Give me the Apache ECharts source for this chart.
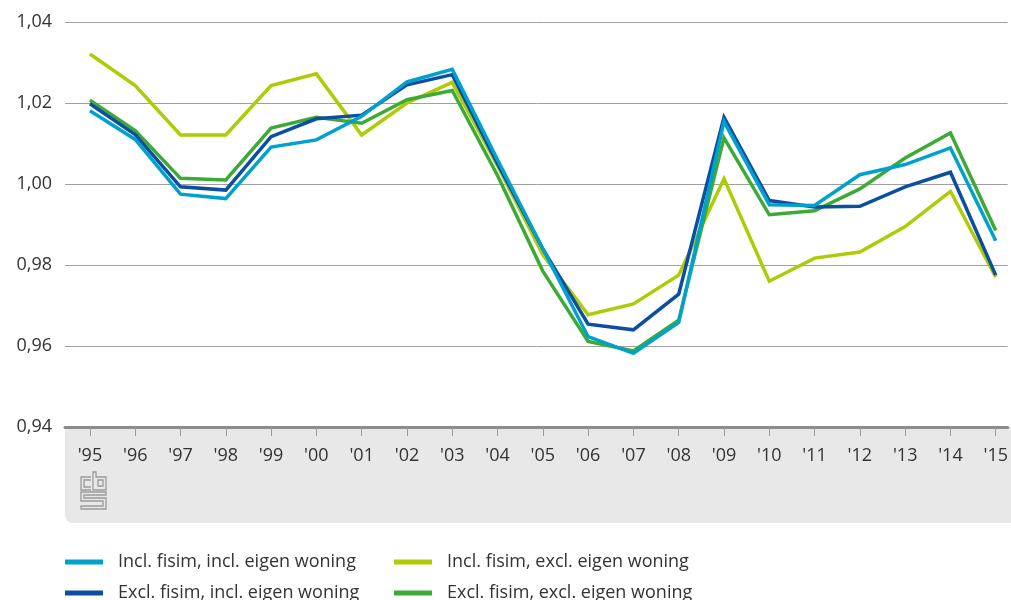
<!DOCTYPE html>
<html>
<head>
<meta charset="utf-8">
<script src="https://cdn.jsdelivr.net/npm/echarts@6/dist/echarts.min.js"></script>
<style>
  html, body { margin: 0; padding: 0; background: #fff; }
  #main { width: 1011px; height: 600px; }
</style>
</head>
<body>
<div id="main"></div>
<script>
// jaren op de x-as
var years = [1995, 1996, 1997, 1998, 1999, 2000, 2001, 2002, 2003, 2004, 2005,
             2006, 2007, 2008, 2009, 2010, 2011, 2012, 2013, 2014, 2015];

// reeksen
var inclFisimInclWoning = [1.0181, 1.0110, 0.9975, 0.9964, 1.0091, 1.0109, 1.0167, 1.0252, 1.0283, 1.0060, 0.9840,
                           0.9623, 0.9582, 0.9658, 1.0154, 0.9949, 0.9947, 1.0023, 1.0048, 1.0089, 0.9860];
var exclFisimInclWoning = [1.0198, 1.0122, 0.9993, 0.9985, 1.0117, 1.0161, 1.0170, 1.0245, 1.0270, 1.0050, 0.9840,
                           0.9654, 0.9640, 0.9728, 1.0165, 0.9959, 0.9943, 0.9945, 0.9993, 1.0029, 0.9775];
var inclFisimExclWoning = [1.0321, 1.0243, 1.0121, 1.0121, 1.0243, 1.0272, 1.0121, 1.0200, 1.0251, 1.0045, 0.9825,
                           0.9677, 0.9704, 0.9775, 1.0013, 0.9760, 0.9817, 0.9832, 0.9895, 0.9982, 0.9770];
var exclFisimExclWoning = [1.0207, 1.0132, 1.0014, 1.0010, 1.0138, 1.0165, 1.0150, 1.0208, 1.0231, 1.0021, 0.9785,
                           0.9611, 0.9588, 0.9664, 1.0114, 0.9924, 0.9934, 0.9988, 1.0064, 1.0126, 0.9885];

var yTicks = [0.94, 0.96, 0.98, 1.00, 1.02, 1.04];

var names = ['Incl. fisim, incl. eigen woning', 'Excl. fisim, incl. eigen woning',
             'Incl. fisim, excl. eigen woning', 'Excl. fisim, excl. eigen woning'];
var colors = ['#00a1cd', '#0b4ea2', '#afcb05', '#3daa35'];

var FONT = '"Open Sans", "Noto Sans", sans-serif';

function pairs(vals) {
    return years.map(function (y, i) { return [y, vals[i]]; });
}

function line(name, vals, color, z) {
    return {
        name: name,
        type: 'line',
        data: pairs(vals),
        symbol: 'none',
        z: z,
        lineStyle: { color: color, width: 3.5, join: 'miter' },
        itemStyle: { color: color }
    };
}

var myChart = echarts.init(document.getElementById('main'));

var legendText = { color: '#333', fontSize: 18, fontFamily: FONT, padding: [0, 0, 0, 10], lineHeight: 20 };

myChart.setOption({
    animation: false,
    grid: { left: 65, right: 0, top: 22, bottom: 173 },
    legend: [{
        left: 60, top: 547, height: 80, orient: 'vertical', itemGap: 11,
        icon: 'rect', itemWidth: 38, itemHeight: 5,
        data: [names[0], names[1]], textStyle: legendText
    }, {
        left: 389, top: 547, height: 80, orient: 'vertical', itemGap: 11,
        icon: 'rect', itemWidth: 38, itemHeight: 5,
        data: [names[2], names[3]], textStyle: legendText
    }],
    xAxis: {
        type: 'value',
        min: 1994.45,
        max: 2015.264,
        splitLine: { show: false },
        axisLine: { show: true, onZero: false, lineStyle: { color: '#8c8c8c', width: 3 } },
        axisTick: { show: true, customValues: years, length: 9, lineStyle: { color: '#999', width: 1 } },
        axisLabel: {
            customValues: years,
            margin: 20,
            color: '#333', fontSize: 18, fontFamily: FONT,
            formatter: function (v) { return "'" + String(Math.round(v)).slice(2); }
        }
    },
    yAxis: {
        type: 'value',
        min: 0.94,
        max: 1.04,
        interval: 0.02,
        axisLine: { show: false },
        axisTick: { show: false },
        splitLine: { lineStyle: { color: '#a0a0a0', width: 1 } },
        axisLabel: {
            customValues: yTicks,
            margin: 13,
            color: '#333', fontSize: 18, fontFamily: FONT,
            formatter: function (v) { return v.toFixed(2).replace('.', ','); }
        }
    },
    graphic: [
        // grijze band onder de x-as
        { type: 'rect', z: -1, shape: { x: 65, y: 427, width: 946, height: 96, r: [0, 0, 0, 8] },
          style: { fill: '#e8e8e8' } },
        // cbs logo
        { type: 'group', z: 5, children: [
            { type: 'polyline', shape: { points: [[91, 477], [81, 477], [81, 490], [91, 490]] },
              style: { stroke: '#9a9a9a', lineWidth: 1.3, fill: null } },
            { type: 'polyline', shape: { points: [[91, 480], [84, 480], [84, 487], [91, 487]] },
              style: { stroke: '#9a9a9a', lineWidth: 1.3, fill: null } },
            { type: 'polygon', shape: { points: [[93, 472], [96, 472], [96, 477], [106, 477], [106, 490], [93, 490]] },
              style: { stroke: '#9a9a9a', lineWidth: 1.3, fill: null } },
            { type: 'rect', shape: { x: 98, y: 480, width: 5, height: 6 },
              style: { stroke: '#9a9a9a', lineWidth: 1.3, fill: null } },
            { type: 'polygon', shape: { points: [[106, 492], [81, 492], [81, 501], [103, 501], [103, 506], [81, 506],
                                                 [81, 509], [106, 509], [106, 498], [84, 498], [84, 495], [106, 495]] },
              style: { stroke: '#9a9a9a', lineWidth: 1.3, fill: null } }
        ]}
    ],
    series: [
        line(names[2], inclFisimExclWoning, colors[2], 2),
        line(names[3], exclFisimExclWoning, colors[3], 3),
        line(names[1], exclFisimInclWoning, colors[1], 4),
        line(names[0], inclFisimInclWoning, colors[0], 5)
    ]
});
</script>
</body>
</html>
